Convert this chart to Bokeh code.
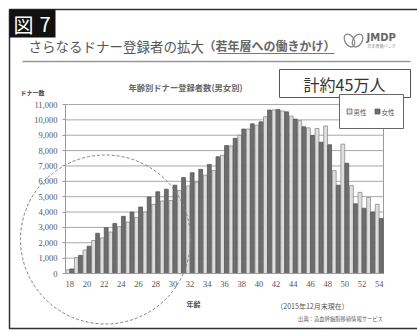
from bokeh.plotting import figure
from bokeh.models import Range1d, LinearAxis, FixedTicker, NumeralTickFormatter
from bokeh.core.properties import value
from bokeh.embed import file_html
from bokeh.resources import INLINE

# ---------------- data ----------------
ages = list(range(18, 55))
male = [250, 1030, 1530, 2150, 2320, 2700, 3050, 3350, 3650, 4000,
        4500, 4720, 4750, 5400, 5700, 5950, 6400, 6700, 7700, 8300,
        9000, 9400, 9650, 10200, 10650, 10580, 10250, 9950, 9480, 9440,
        9600, 6700, 8420, 5720, 5280, 4950, 4500]
female = [300, 1180, 1780, 2620, 2980, 3250, 3720, 4000, 4330, 4980,
          5320, 5490, 5750, 6250, 6560, 6780, 7100, 7600, 8330, 8800,
          9400, 9740, 9870, 10640, 10680, 10520, 10050, 9550, 8980, 8550,
          8380, 5750, 7180, 4540, 4250, 4000, 3580]
y_ticks = list(range(0, 11001, 1000))
x_ticks = list(range(18, 55, 2))
series_names = ["男性", "女性"]

# ---------------- geometry ----------------
W, H = 417, 331
PL, PR, PT, PB = 65, 383, 104, 273
a0, a1 = ages[0] - 0.5, ages[-1] + 0.5
y_max = y_ticks[-1]
KX = (PR - PL) / (a1 - a0)
KY = (PB - PT) / y_max
x_start = a0 - PL / KX
x_end = x_start + W / KX
y_start = -(H - PB) / KY
y_end = PB / KY


def X(px):
    return x_start + px / KX


def Y(py):
    return (PB - py) / KY


JP = value("Noto Sans CJK JP")
SERIF = "Liberation Serif"

p = figure(width=W, height=H, x_range=Range1d(x_start, x_end),
           y_range=Range1d(y_start, y_end), x_axis_type=None, y_axis_type=None,
           toolbar_location=None, output_backend="svg", min_border=0,
           outline_line_color=None, background_fill_color="white",
           border_fill_color="white")

# plot area box + grid
p.quad(left=[a0], right=[a1], bottom=[0], top=[y_max], fill_color="white",
       line_color="#9a9a9a", line_width=1)
p.segment(x0=[a0] * (len(y_ticks) - 1), x1=[a1] * (len(y_ticks) - 1),
          y0=y_ticks[1:], y1=y_ticks[1:], line_color="#a8a8a8", line_width=1)

# bars
off, bw = 0.235, 0.45
p.vbar(x=[a - off for a in ages], top=male, bottom=0, width=bw,
       fill_color="#dedede", line_color="#808080", line_width=0.7)
p.vbar(x=[a + off for a in ages], top=female, bottom=0, width=bw,
       fill_color="#6e6e6e", line_color="#505050", line_width=0.7)

# axes
yaxis = LinearAxis(fixed_location=a0, bounds=(0, y_max),
                   ticker=FixedTicker(ticks=y_ticks),
                   formatter=NumeralTickFormatter(format="0,0"),
                   major_tick_out=3, major_tick_in=0, minor_tick_out=0,
                   minor_tick_in=0, axis_line_color="#9a9a9a",
                   major_tick_line_color="#9a9a9a",
                   major_label_text_font=SERIF,
                   major_label_text_font_size="8.5px",
                   major_label_text_color="#555555", major_label_standoff=5)
p.add_layout(yaxis, "left")
xaxis = LinearAxis(fixed_location=0, bounds=(a0, a1),
                   ticker=FixedTicker(ticks=x_ticks),
                   major_tick_out=0, major_tick_in=0, minor_tick_out=0,
                   minor_tick_in=0, axis_line_color="#9a9a9a",
                   major_label_text_font=SERIF,
                   major_label_text_font_size="8.5px",
                   major_label_text_color="#555555", major_label_standoff=7)
p.add_layout(xaxis, "below")

# dashed circle highlighting young ages
p.ellipse(x=[X(105)], y=[Y(239)], width=170, height=169, width_units="screen",
          height_units="screen", fill_color=None, line_color="#808080",
          line_dash="3 2", line_width=1)

# outer frame
p.line(x=[X(417), X(9), X(9), X(417)], y=[Y(9), Y(9), Y(328), Y(328)],
       line_color="#333333", line_width=1.5)
p.segment(x0=[X(22)], x1=[X(410)], y0=[Y(61)], y1=[Y(61)],
          line_color="#999999", line_width=1.5)

# figure number box
p.quad(left=[X(9)], right=[X(55)], top=[Y(9)], bottom=[Y(37)],
       fill_color="#111111", line_color=None)
p.text(x=[X(13), X(39)], y=[Y(24), Y(24)], text=["図", "7"], text_font=JP,
       text_font_size=value("20px"), text_color="white",
       text_baseline="middle", text_align="left")

# main title
p.text(x=[X(28)], y=[Y(45)], text=["さらなるドナー登録者の拡大"], text_font=JP,
       text_font_size=value("13.5px"), text_color="#555555",
       text_baseline="middle", text_align="left")
p.text(x=[X(203)], y=[Y(45)], text=["（若年層への働きかけ）"], text_font=JP,
       text_font_size=value("12px"), text_font_style="bold",
       text_color="#666666", text_baseline="middle", text_align="left")
p.segment(x0=[X(217)], x1=[X(334)], y0=[Y(53)], y1=[Y(53)],
          line_color="#777777", line_width=1)

# logo
p.ellipse(x=[X(349), X(357)], y=[Y(40), Y(40)], width=9, height=14,
          width_units="screen", height_units="screen", angle=[0.55, -0.55],
          fill_color=None, line_color="#888888", line_width=1.3)
p.text(x=[X(366)], y=[Y(37)], text=["JMDP"], text_font=value("DejaVu Sans"),
       text_font_size=value("10px"), text_font_style="bold",
       text_color="#666666", text_baseline="middle", text_align="left")
p.text(x=[X(367)], y=[Y(45)], text=["日本骨髄バンク"], text_font=JP,
       text_font_size=value("4px"), text_color="#888888",
       text_baseline="middle", text_align="left")

# chart title
p.text(x=[X(185)], y=[Y(86)], text=["年齢別ドナー登録者数(男女別)"], text_font=JP,
       text_font_size=value("8.3px"), text_font_style="bold",
       text_color="#666666", text_baseline="middle", text_align="center")

# total box
p.quad(left=[X(279)], right=[X(410)], top=[Y(69)], bottom=[Y(97)],
       fill_color="white", line_color="#555555", line_width=1)
p.text(x=[X(344)], y=[Y(83)], text=["計約45万人"], text_font=JP,
       text_font_size=value("16px"), text_color="#333333",
       text_baseline="middle", text_align="center")

# legend box
p.quad(left=[X(339)], right=[X(403)], top=[Y(94)], bottom=[Y(128)],
       fill_color="white", line_color="#666666", line_width=1)
p.scatter(x=[X(349), X(377)], y=[Y(111), Y(111)], marker="square", size=5,
          fill_color=["#dedede", "#6e6e6e"], line_color="#555555",
          line_width=0.7)
p.text(x=[X(353), X(381)], y=[Y(111), Y(111)], text=series_names, text_font=JP,
       text_font_size=value("6.5px"), text_color="#555555",
       text_baseline="middle", text_align="left")

# axis titles and notes
p.text(x=[X(20)], y=[Y(92)], text=["ドナー数"], text_font=JP,
       text_font_size=value("6px"), text_font_style="bold",
       text_color="#444444", text_baseline="middle", text_align="left")
p.text(x=[X(193)], y=[Y(303)], text=["年齢"], text_font=JP,
       text_font_size=value("7px"), text_font_style="bold",
       text_color="#555555", text_baseline="middle", text_align="center")
p.text(x=[X(312)], y=[Y(305)], text=["（2015年12月末現在）"], text_font=JP,
       text_font_size=value("7px"), text_color="#555555",
       text_baseline="middle", text_align="center")
p.text(x=[X(340)], y=[Y(318)], text=["出典：造血幹細胞移植情報サービス"],
       text_font=JP, text_font_size=value("5.3px"), text_color="#666666",
       text_baseline="middle", text_align="center")

open("out.html", "w").write(file_html(p, INLINE))
